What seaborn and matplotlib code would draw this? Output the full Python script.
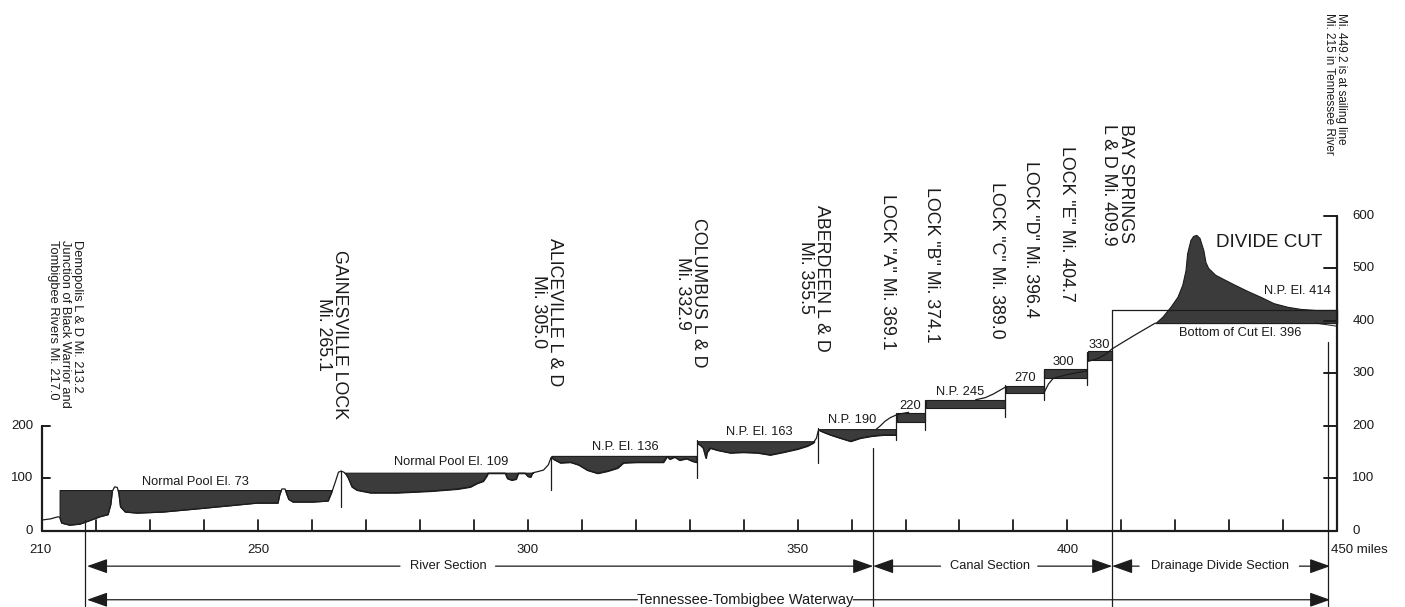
import numpy as np
import matplotlib
matplotlib.use("Agg")
import matplotlib.pyplot as plt
import seaborn as sns

sns.set_theme(style="white")
plt.rcParams['font.family'] = ['Liberation Sans', 'DejaVu Sans']

# ---------------- data (river mile, elevation in ft) ----------------
# Demopolis pool (Normal Pool El. 73)
pool1_mi = [213.3, 213.6, 215.1, 217.0, 218.9, 220.7, 222.2, 222.7, 223.0, 223.4, 223.9, 224.2,
            224.5, 225.4, 227.6, 232.4, 238.7, 244.8, 249.8, 253.7, 254.0, 254.4, 255.0, 255.4,
            255.7, 256.5, 260.2, 263.0, 263.6, 264.3, 264.9, 265.4]
pool1_bed = [24, 15, 11, 13, 20, 27, 31, 50, 76, 84, 83, 72,
             46, 36, 34, 36, 42, 48, 53, 53, 68, 80, 80, 68,
             60, 55, 55, 57, 72, 93, 112, 114]
pool1_np = 77
# Gainesville pool (Normal Pool El. 109)
pool2_mi = [265.4, 265.9, 266.3, 266.7, 267.4, 268.3, 270.8, 275.8, 281.9, 286.9, 289.3, 290.6,
            291.7, 292.3, 292.6, 295.8, 296.2, 297.0, 297.8, 298.2, 299.5, 300.0, 300.5, 300.8,
            301.0, 301.8, 302.9, 303.8, 304.3]
pool2_bed = [114, 112, 108, 101, 84, 78, 73, 73, 76, 80, 84, 91,
             95, 104, 110, 110, 100, 97, 99, 110, 110, 104, 103, 110,
             111, 113, 116, 126, 140]
pool2_np = 111
# Aliceville pool (N.P. El. 136)
pool3_mi = [304.4, 304.7, 306.0, 307.9, 309.4, 311.0, 312.9, 314.7, 316.6, 317.7, 320.3, 323.3,
            325.1, 325.8, 326.3, 327.2, 328.1, 329.4, 330.5, 331.2]
pool3_bed = [141, 137, 130, 131, 126, 116, 110, 114, 120, 130, 131, 131,
             131, 142, 137, 141, 135, 138, 133, 131]
pool3_np = 143
# Columbus pool (N.P. El. 163)
pool4_mi = [331.5, 331.9, 332.5, 333.0, 333.2, 333.8, 335.1, 337.5, 339.9, 342.5, 344.9, 347.3,
            349.9, 351.8, 352.9, 353.5, 353.8]
pool4_bed = [166, 164, 158, 139, 150, 158, 154, 149, 150, 149, 145, 150,
             156, 162, 168, 177, 190]
pool4_np = 171
# Aberdeen pool (N.P. 190)
pool5_mi = [354.0, 354.6, 356.1, 357.9, 359.8, 361.6, 363.8, 365.9, 368.2]
pool5_bed = [192, 189, 183, 177, 171, 177, 181, 183, 183]
pool5_np = 194
# Canal pools: (start mile, end mile, channel bottom, normal pool)
canal_start = [368.4, 373.8, 388.6, 395.7, 403.8]
canal_end = [373.6, 388.5, 395.6, 403.7, 408.3]
canal_bottom = [208, 234, 263, 291, 326]
canal_np = [225, 250, 276, 309, 343]
# Divide cut ground profile, bottom of cut and pool
divide_mi = [416.3, 417.6, 419.1, 420.4, 421.3, 421.9, 422.2, 422.8, 423.3, 423.9, 424.5, 425.2,
             425.6, 426.1, 427.4, 428.9, 430.8, 433.4, 435.8, 438.2, 440.8, 443.2, 446.0, 450.0]
divide_ground = [396, 408, 427, 446, 469, 497, 529, 554, 562, 564, 558, 535,
                 512, 501, 488, 480, 470, 457, 446, 434, 427, 423, 421, 421]
divide_bottom = 396
divide_np = 420
# Thin ground lines
ground_lines = [
    ([210.0, 211.5, 212.9, 213.3], [21, 23, 27, 26]),
    ([364.6, 365.3, 366.2, 367.2, 368.3, 369.5, 370.6], [194, 200, 209, 216, 221, 224, 226]),
    ([383.0, 384.8, 386.3, 387.5, 388.5], [250, 254, 261, 268, 274]),
    ([395.6, 396.5, 397.4, 400.0, 403.6], [262, 280, 291, 298, 305]),
    ([403.8, 405.5, 407.0, 408.3, 412.3, 416.3], [323, 328, 336, 347, 372, 396]),
]
# Locks: mile, lower and upper elevation of the drawn lock line
lock_mi = [265.4, 304.2, 331.4, 353.8, 368.3, 373.7, 388.5, 395.6, 403.7]
lock_lo = [46, 78, 101, 130, 173, 192, 217, 250, 278]
lock_hi = [114, 141, 173, 196, 225, 250, 278, 307, 341]
# Section boundaries (mile, top elevation of the line)
bound_mi = [217.9, 364.0, 408.3, 448.4]
bound_top = [20, 158, 420, 360]

x_tick_vals = [210, 250, 300, 350, 400]
x_minor = list(range(220, 450, 10))
left_ticks = [0, 100, 200]
right_ticks = [0, 100, 200, 300, 400, 500, 600]

pool_labels = ["Normal Pool El. 73", "Normal Pool El. 109", "N.P. El. 136", "N.P. El. 163",
               "N.P. 190", "220", "N.P. 245", "270", "300", "330"]
pool_label_mi = [238.3, 285.8, 318.0, 342.9, 360.1, 370.8, 380.1, 392.2, 399.2, 405.9]
pool_label_el = [93, 131, 160, 189, 211, 238, 265, 291, 322, 354]

FILL = '#3b3b3b'
INK = '#1c1c1c'

fig = plt.figure(figsize=(14.05, 6.07), dpi=100)
fig.patch.set_facecolor('white')
ax = fig.add_axes([0, 0, 1, 1])
ax.set_xlim(202.16, 462.58)
ax.set_ylim(-144.8, 1011.4)
ax.axis('off')


def line(xs, ys, lw=1.0, color=INK):
    sns.lineplot(x=np.asarray(xs, float), y=np.asarray(ys, float), ax=ax, color=color,
                 lw=lw, sort=False, estimator=None, legend=False)


def draw_pool(mi, bed, npool):
    mi = np.asarray(mi, float)
    bed = np.asarray(bed, float)
    ax.fill_between(mi, bed, npool, where=bed <= npool, interpolate=True,
                    facecolor=FILL, edgecolor=INK, lw=0.8)
    line(mi, bed, lw=0.9)


for mi, bed, npool in [(pool1_mi, pool1_bed, pool1_np), (pool2_mi, pool2_bed, pool2_np),
                       (pool3_mi, pool3_bed, pool3_np), (pool4_mi, pool4_bed, pool4_np),
                       (pool5_mi, pool5_bed, pool5_np)]:
    draw_pool(mi, bed, npool)

for a, b, lo, hi in zip(canal_start, canal_end, canal_bottom, canal_np):
    ax.fill_between([a, b], [lo, lo], [hi, hi], facecolor=FILL, edgecolor=INK, lw=0.8)

for xs, ys in ground_lines:
    line(xs, ys, lw=0.9)

# divide cut
line([408.3, 450.0], [divide_np, divide_np], lw=0.9)
ax.fill_between(divide_mi, divide_bottom, divide_ground, facecolor=FILL, edgecolor=INK, lw=0.8)
line([446.0, 450.0], [396, 390], lw=0.7)

# locks
for m, lo, hi in zip(lock_mi, lock_lo, lock_hi):
    line([m, m], [lo, hi], lw=0.9)

# boundaries down to the arrows
for m, top in zip(bound_mi, bound_top):
    line([m, m], [top, -142], lw=0.9)

# axes frame
line([210, 450], [0, 0], lw=1.6)
line([210, 210], [0, 200], lw=1.6)
line([450, 450], [0, 600], lw=1.6)
for m in x_minor:
    line([m, m], [0, 21], lw=1.3)
for v in left_ticks[1:]:
    line([210, 211.4], [v, v], lw=1.4)
for v in right_ticks[1:]:
    line([447.6, 450], [v, v], lw=1.4)

TXT = dict(color='#1a1a1a')
for v in x_tick_vals:
    ax.text(v - (0.4 if v == 210 else 0), -36, str(v), ha='center', va='center', fontsize=9.5, **TXT)
ax.text(448.9, -36, "450 miles", ha='left', va='center', fontsize=9.5, **TXT)
for v in left_ticks:
    ax.text(208.3, v, str(v), ha='right', va='center', fontsize=9.5, **TXT)
for v in right_ticks:
    ax.text(452.8, v, str(v), ha='left', va='center', fontsize=9.5, **TXT)

for t, m, e in zip(pool_labels, pool_label_mi, pool_label_el):
    ax.text(m, e, t, ha='center', va='center', fontsize=9.3, **TXT)

ax.text(437.4, 550, "DIVIDE CUT", ha='center', va='center', fontsize=13.5, **TXT)
ax.text(442.6, 457, "N.P. El. 414", ha='center', va='center', fontsize=9.3, **TXT)
ax.text(432.0, 377, "Bottom of Cut El. 396", ha='center', va='center', fontsize=9.3, **TXT)

# rotated site labels
ax.text(214.2, 554, "Demopolis L & D Mi. 213.2\nJunction of Black Warrior and\nTombigbee Rivers Mi. 217.0",
        rotation=-90, ha='center', va='top', multialignment='left', fontsize=9.3, linespacing=1.0, **TXT)
big = 12.8
sites = [("GAINESVILLE LOCK\nMi. 265.1", 263.6, 375),
         ("ALICEVILLE L & D\nMi. 305.0", 303.4, 417),
         ("COLUMBUS L & D\nMi. 332.9", 330.1, 453),
         ("ABERDEEN L & D\nMi. 355.5", 352.9, 482),
         ('LOCK "A" Mi. 369.1', 366.6, 493),
         ('LOCK "B" Mi. 374.1', 374.9, 507),
         ('LOCK "C" Mi. 389.0', 386.8, 516),
         ('LOCK "D" Mi. 396.4', 393.1, 555),
         ('LOCK "E" Mi. 404.7', 399.8, 585)]
for t, m, e in sites:
    ax.text(m, e, t, rotation=-90, ha='center', va='center', multialignment='center',
            fontsize=big, linespacing=0.95, **TXT)
ax.text(409.2, 775, "BAY SPRINGS\nL & D Mi. 409.9", rotation=-90, ha='center', va='top',
        multialignment='left', fontsize=big, linespacing=0.95, **TXT)
ax.text(449.6, 986, "Mi. 449.2 is at sailing line\nMi. 215 in Tennessee River", rotation=-90,
        ha='center', va='top', multialignment='left', fontsize=8.5, linespacing=1.0, **TXT)

# section arrows
def arrow(tail, tip, y):
    ax.annotate('', xy=(tip, y), xytext=(tail, y),
                arrowprops=dict(arrowstyle='-|>,head_length=0.9,head_width=0.32', color=INK,
                                lw=0.9, shrinkA=0, shrinkB=0, mutation_scale=14))

y1, y2 = -67, -131
arrow(276.3, 218.3, y1); arrow(294.0, 364.0, y1)
arrow(376.5, 364.0, y1); arrow(394.5, 408.3, y1)
arrow(413.3, 408.3, y1); arrow(443.0, 448.7, y1)
arrow(320.3, 218.3, y2); arrow(360.3, 448.7, y2)
ax.text(285.2, y1, "River Section", ha='center', va='center', fontsize=9.3, **TXT)
ax.text(385.6, y1, "Canal Section", ha='center', va='center', fontsize=9.3, **TXT)
ax.text(428.3, y1, "Drainage Divide Section", ha='center', va='center', fontsize=9.3, **TXT)
ax.text(340.2, y2, "Tennessee-Tombigbee Waterway", ha='center', va='center', fontsize=10.5, **TXT)

fig.savefig("out.png", dpi=100, facecolor='white')
